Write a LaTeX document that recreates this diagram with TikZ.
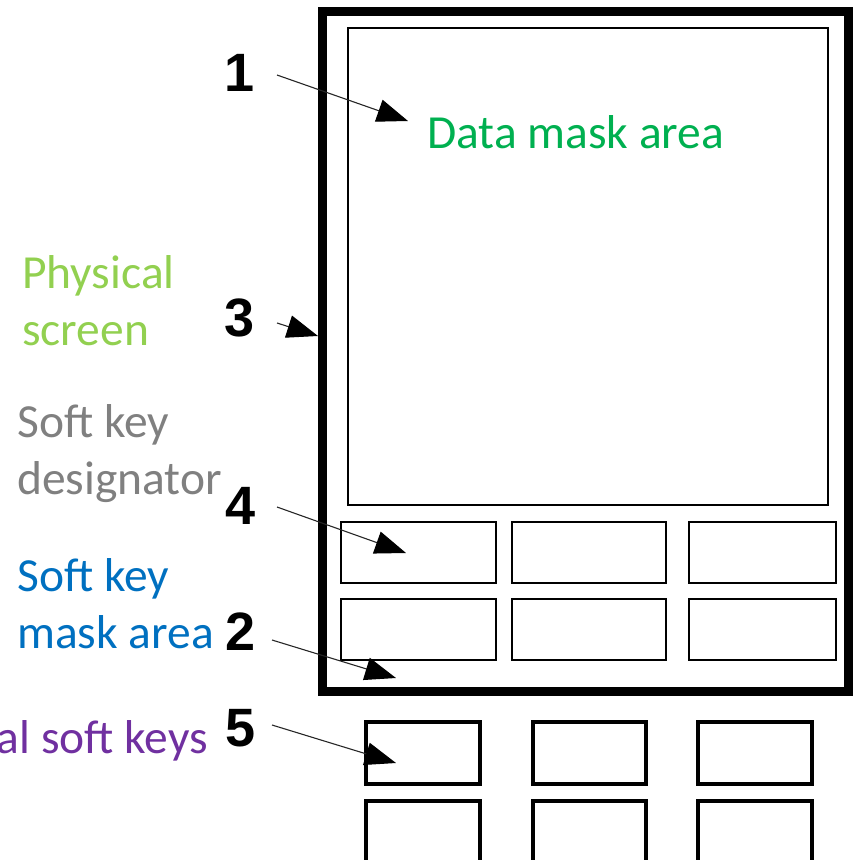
\documentclass[tikz,border=0pt]{standalone}
\usepackage{fontspec}
\setmainfont{Carlito}
\newfontfamily\numfont{Liberation Sans}
\usetikzlibrary{arrows.meta}
\definecolor{cdata}{HTML}{00B050}
\definecolor{cphys}{HTML}{92D050}
\definecolor{cdesig}{HTML}{808080}
\definecolor{cmask}{HTML}{0070C0}
\definecolor{ckeys}{HTML}{7030A0}
\tikzset{
  box/.style={draw=black, inner sep=0pt, outer sep=0pt},
  softkey/.style={box, line width=2.5pt, minimum height=61pt},
  physkey/.style={box, line width=4pt, minimum height=62pt},
  lbl/.style={font=\fontsize{47.5}{57}\selectfont, inner sep=0pt, align=left, anchor=base west},
  num/.style={font=\numfont\bfseries\fontsize{54}{54}\selectfont, inner sep=0pt},
  ptr/.style={line width=1.1pt, draw=black!85, -{Triangle[length=31pt,width=23pt,fill=black,color=black]}}
}
\begin{document}
\begin{tikzpicture}[x=1pt,y=-1pt]
\useasboundingbox (0,0) rectangle (856,860);
\clip (0,0) rectangle (856,860);
% screen frame and data area
\node[box, line width=9pt, minimum width=526pt, minimum height=680pt] (screen) at (585,351) {};
\node[box, line width=2.5pt, minimum width=480pt, minimum height=477pt] (data) at (588,266.5) {};
% soft key designators
\node[softkey, minimum width=155pt] (sk1) at (418.5,552.5) {};
\node[softkey, minimum width=154pt] (sk2) at (589,552.5) {};
\node[softkey, minimum width=147pt] (sk3) at (762.5,552.5) {};
\node[softkey, minimum width=155pt] (sk4) at (418.5,629.5) {};
\node[softkey, minimum width=154pt] (sk5) at (589,629.5) {};
\node[softkey, minimum width=147pt] (sk6) at (762.5,629.5) {};
% physical soft keys
\node[physkey, minimum width=114pt] (pk1) at (423,753) {};
\node[physkey, minimum width=113pt] (pk2) at (589,753) {};
\node[physkey, minimum width=114pt] (pk3) at (755,753) {};
\node[physkey, minimum width=114pt] (pk4) at (423,832) {};
\node[physkey, minimum width=113pt] (pk5) at (589,832) {};
\node[physkey, minimum width=114pt] (pk6) at (755,832) {};
% labels (base anchor = baseline of last line)
\node[lbl, text=cdata] (ldata) at (427,148) {Data mask area};
\node[lbl, text=cphys] (lphys) at (22,345) {Physical\\screen};
\node[lbl, text=cdesig] (ldesig) at (17,494) {Soft key\\designator};
\node[lbl, text=cmask] (lmask) at (17,648) {Soft key\\mask area};
\node[lbl, text=ckeys, anchor=base east] (lkeys) at (208,753) {al soft keys};
% numbers
\node[num] (n1) at (240,73) {1};
\node[num] (n3) at (240,318) {3};
\node[num] (n4) at (241,506) {4};
\node[num] (n2) at (241,632) {2};
\node[num] (n5) at (241,728) {5};
% arrow ends
\coordinate (s1) at (277,75);  \coordinate (e1) at (408,121);
\coordinate (s3) at (277,323); \coordinate (e3) at (318,336);
\coordinate (s4) at (277,507); \coordinate (e4) at (406,553);
\coordinate (s2) at (272,640); \coordinate (e2) at (396,678);
\coordinate (s5) at (272,725); \coordinate (e5) at (396,763);
\draw[ptr] (s1) -- (e1);
\draw[ptr] (s3) -- (e3);
\draw[ptr] (s4) -- (e4);
\draw[ptr] (s2) -- (e2);
\draw[ptr] (s5) -- (e5);
\end{tikzpicture}
\end{document}
